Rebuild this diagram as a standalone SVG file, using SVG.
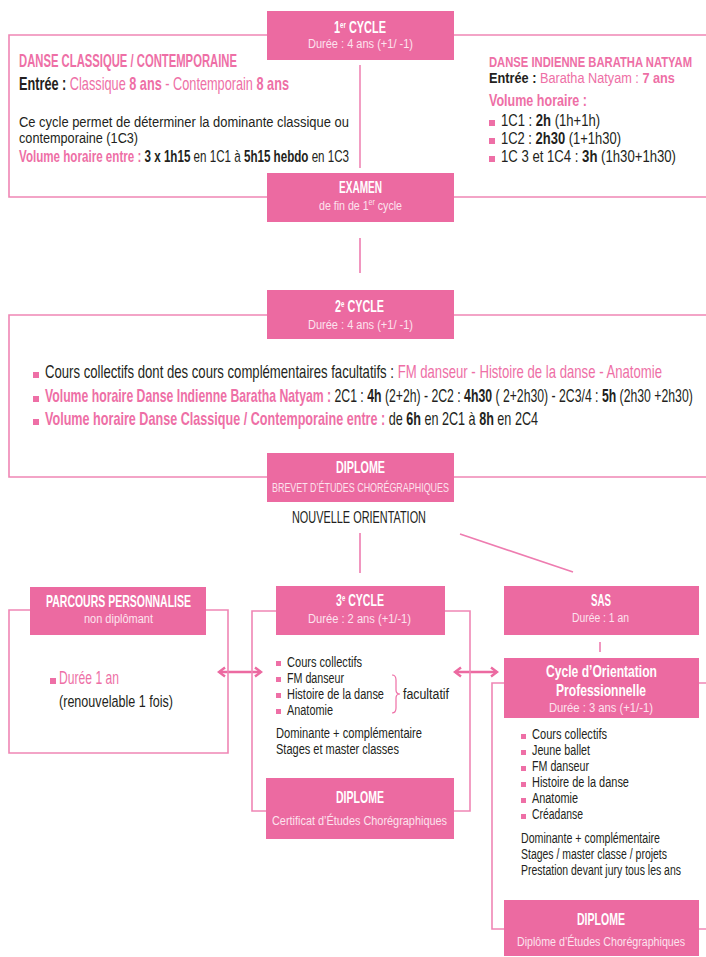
<svg xmlns="http://www.w3.org/2000/svg" width="706" height="957" viewBox="0 0 706 957">
<defs>
<style>
text{font-family:"Liberation Sans",Arial,sans-serif;fill:#231F20}
.box{fill:#EC6AA1}
.frame{fill:none;stroke:#EF86B5;stroke-width:1.6}
.conn{fill:none;stroke:#EE7CB0;stroke-width:1.6}
.arr{fill:none;stroke:#EC6AA1;stroke-width:2.6}
.bt{fill:#FFFFFF;font-weight:bold;font-size:16px}
.bs{fill:#FCE3EE;font-size:13.5px}
.pk{fill:#EE6FA6}
.b{font-weight:bold}
.bul{fill:#EE6FA6}
.s18{font-size:18px}
.s17{font-size:17px}
.s16{font-size:16px}
.s15{font-size:15.5px}
.s15b{font-size:15px}
.sup{font-size:9px}
</style>
<marker id="chev" viewBox="-8 -6 10 12" refX="0" refY="0" markerWidth="10" markerHeight="12" markerUnits="userSpaceOnUse" orient="auto-start-reverse">
<path d="M-6,-4.5 L0,0 L-6,4.5" fill="none" stroke="#EC6AA1" stroke-width="2.4"/>
</marker>
</defs>
<rect width="706" height="957" fill="#FFFFFF"/>

<g id="connectors">
<path class="conn" d="M360,238 V273"/>
<path class="conn" d="M360,533 V573"/>
<path class="conn" d="M460,534 L573,572"/>
<path class="conn" d="M600,642 V652"/>
<path class="arr" d="M219,672 H261" marker-start="url(#chev)" marker-end="url(#chev)"/>
<path class="arr" d="M455,672 H497" marker-start="url(#chev)" marker-end="url(#chev)"/>
</g>

<g id="cycle1">
<path class="frame" d="M267,35 H9 V197 H267 M454,35 H706 M454,197 H706 M360,65 V168"/>
<rect class="box" x="267" y="11" width="187" height="49"/>
<text class="bt" transform="translate(334,33) scale(.72,1)" textLength="72.2" lengthAdjust="spacingAndGlyphs">1<tspan class="sup" dy="-5">er</tspan><tspan dy="5"> CYCLE</tspan></text>
<text class="bs" transform="translate(308,48) scale(.72,1)" textLength="145.8" lengthAdjust="spacingAndGlyphs">Durée : 4 ans (+1/ -1)</text>
<text class="s18 b pk" transform="translate(19,67) scale(.62,1)" textLength="351.6" lengthAdjust="spacingAndGlyphs">DANSE CLASSIQUE / CONTEMPORAINE</text>
<text class="s18" transform="translate(19,90) scale(.7066,1)" textLength="382.1" lengthAdjust="spacingAndGlyphs"><tspan class="b">Entrée :</tspan><tspan class="pk"> Classique </tspan><tspan class="pk b">8 ans</tspan><tspan class="pk"> - Contemporain </tspan><tspan class="pk b">8 ans</tspan></text>
<text class="s15b" transform="translate(19,126.5) scale(.862,1)" textLength="382.7" lengthAdjust="spacingAndGlyphs">Ce cycle permet de déterminer la dominante classique ou</text>
<text class="s15b" transform="translate(19,143) scale(.845,1)" textLength="140.9" lengthAdjust="spacingAndGlyphs">contemporaine (1C3)</text>
<text class="s17" transform="translate(19,162) scale(.681,1)" textLength="484.7" lengthAdjust="spacingAndGlyphs"><tspan class="pk b">Volume horaire entre :</tspan> <tspan class="b">3 x 1h15</tspan> en 1C1 à <tspan class="b">5h15 hebdo</tspan> en 1C3</text>
<text class="s15b b pk" transform="translate(489,66.5) scale(.739,1)" textLength="274.7" lengthAdjust="spacingAndGlyphs">DANSE INDIENNE BARATHA NATYAM</text>
<text class="s15b" transform="translate(489,82.5) scale(.848,1)" textLength="219.3" lengthAdjust="spacingAndGlyphs"><tspan class="b">Entrée :</tspan><tspan class="pk"> Baratha Natyam : </tspan><tspan class="pk b">7 ans</tspan></text>
<text class="s17 b pk" transform="translate(489,106) scale(.72,1)" textLength="136.1" lengthAdjust="spacingAndGlyphs">Volume horaire :</text>
<rect class="bul" x="489" y="120" width="6" height="6"/>
<text class="s16" transform="translate(501,126) scale(.8155,1)" textLength="121.4" lengthAdjust="spacingAndGlyphs">1C1 : <tspan class="b">2h</tspan> (1h+1h)</text>
<rect class="bul" x="489" y="138" width="6" height="6"/>
<text class="s16" transform="translate(501,144) scale(.81,1)" textLength="148.1" lengthAdjust="spacingAndGlyphs">1C2 : <tspan class="b">2h30</tspan> (1+1h30)</text>
<rect class="bul" x="489" y="156" width="6" height="6"/>
<text class="s16" transform="translate(501,162) scale(.8216,1)" textLength="213" lengthAdjust="spacingAndGlyphs">1C 3 et 1C4 : <tspan class="b">3h</tspan> (1h30+1h30)</text>
</g>

<g id="examen">
<rect class="box" x="267" y="173" width="187" height="49"/>
<text class="bt" transform="translate(339,193) scale(.72,1)" textLength="59.7" lengthAdjust="spacingAndGlyphs">EXAMEN</text>
<text class="bs" transform="translate(319,210) scale(.72,1)" textLength="115.3" lengthAdjust="spacingAndGlyphs">de fin de 1<tspan class="sup" dy="-5">er</tspan><tspan dy="5"> cycle</tspan></text>
</g>

<g id="cycle2">
<path class="frame" d="M267,315 H9 V477 H267 M454,315 H706 M454,477 H706"/>
<rect class="box" x="267" y="290" width="187" height="49"/>
<text class="bt" transform="translate(335,312) scale(.72,1)" textLength="68.1" lengthAdjust="spacingAndGlyphs">2<tspan class="sup" dy="-5">e</tspan><tspan dy="5"> CYCLE</tspan></text>
<text class="bs" transform="translate(308,329) scale(.72,1)" textLength="145.8" lengthAdjust="spacingAndGlyphs">Durée : 4 ans (+1/ -1)</text>
<rect class="bul" x="33" y="372" width="6" height="6"/>
<text class="s18" transform="translate(45,378) scale(.729,1)" textLength="846.3" lengthAdjust="spacingAndGlyphs">Cours collectifs dont des cours complémentaires facultatifs : <tspan class="pk">FM danseur - Histoire de la danse  - Anatomie</tspan></text>
<rect class="bul" x="33" y="396" width="6" height="6"/>
<text class="s18" transform="translate(45,402) scale(.679,1)" textLength="954" lengthAdjust="spacingAndGlyphs"><tspan class="pk b">Volume horaire Danse Indienne Baratha Natyam :</tspan> 2C1 : <tspan class="b">4h</tspan> (2+2h) - 2C2 : <tspan class="b">4h30</tspan> ( 2+2h30) - 2C3/4 : <tspan class="b">5h</tspan> (2h30 +2h30)</text>
<rect class="bul" x="33" y="419" width="6" height="6"/>
<text class="s18" transform="translate(45,425) scale(.7026,1)" textLength="701.7" lengthAdjust="spacingAndGlyphs"><tspan class="pk b">Volume horaire Danse Classique / Contemporaine entre :</tspan> de <tspan class="b">6h</tspan> en 2C1 à <tspan class="b">8h</tspan> en 2C4</text>
</g>

<g id="diplome2">
<rect class="box" x="267" y="453" width="187" height="49"/>
<text class="bt" transform="translate(336,473) scale(.72,1)" textLength="68.1" lengthAdjust="spacingAndGlyphs">DIPLOME</text>
<text class="bs" transform="translate(272,492) scale(.72,1)" textLength="245.8" lengthAdjust="spacingAndGlyphs">BREVET D’ÉTUDES CHORÉGRAPHIQUES</text>
</g>

<g id="nouvelle-orientation">
<text class="s17" transform="translate(292,523) scale(.72,1)" textLength="186.1" lengthAdjust="spacingAndGlyphs">NOUVELLE ORIENTATION</text>
</g>

<g id="parcours">
<path class="frame" d="M30,610 H9 V753 H228 V610 H206"/>
<rect class="box" x="30" y="587" width="176" height="48"/>
<text class="bt" transform="translate(46,607) scale(.72,1)" textLength="201.4" lengthAdjust="spacingAndGlyphs">PARCOURS PERSONNALISE</text>
<text class="bs" transform="translate(84,623) scale(.72,1)" textLength="95.8" lengthAdjust="spacingAndGlyphs">non diplômant</text>
<rect class="bul" x="50" y="678" width="6" height="6"/>
<text class="s18 pk" transform="translate(59,684) scale(.72,1)" textLength="83.3" lengthAdjust="spacingAndGlyphs">Durée 1 an</text>
<text class="s17" transform="translate(59,707) scale(.72,1)" textLength="158.3" lengthAdjust="spacingAndGlyphs">(renouvelable 1 fois)</text>
</g>

<g id="cycle3">
<path class="frame" d="M276,611 H252 V811 H266 M454,811 H470 V611 H445"/>
<rect class="box" x="276" y="586" width="169" height="49"/>
<text class="bt" transform="translate(336,606) scale(.72,1)" textLength="66.7" lengthAdjust="spacingAndGlyphs">3<tspan class="sup" dy="-5">e</tspan><tspan dy="5"> CYCLE</tspan></text>
<text class="bs" transform="translate(308,623) scale(.72,1)" textLength="143.1" lengthAdjust="spacingAndGlyphs">Durée : 2 ans (+1/-1)</text>
<rect class="bul" x="276" y="661" width="5" height="5"/>
<text class="s15" transform="translate(287,667) scale(.72,1)" textLength="104.2" lengthAdjust="spacingAndGlyphs">Cours collectifs</text>
<rect class="bul" x="276" y="677" width="5" height="5"/>
<text class="s15" transform="translate(287,683) scale(.72,1)" textLength="79.2" lengthAdjust="spacingAndGlyphs">FM danseur</text>
<rect class="bul" x="276" y="693" width="5" height="5"/>
<text class="s15" transform="translate(287,699) scale(.72,1)" textLength="134.7" lengthAdjust="spacingAndGlyphs">Histoire de la danse</text>
<rect class="bul" x="276" y="709" width="5" height="5"/>
<text class="s15" transform="translate(287,715) scale(.72,1)" textLength="63.9" lengthAdjust="spacingAndGlyphs">Anatomie</text>
<path d="M392,675 Q396,675 396,680 L396,690 Q396,694 400,694 Q396,694 396,698 L396,708 Q396,713 392,713" fill="none" stroke="#EE6FA6" stroke-width="1.2"/>
<text class="s15" transform="translate(403,699) scale(.72,1)" textLength="63.9" lengthAdjust="spacingAndGlyphs">facultatif</text>
<text class="s15" transform="translate(276,738) scale(.72,1)" textLength="202.8" lengthAdjust="spacingAndGlyphs">Dominante + complémentaire</text>
<text class="s15" transform="translate(276,754) scale(.72,1)" textLength="170.8" lengthAdjust="spacingAndGlyphs">Stages et master classes</text>
</g>

<g id="diplome3">
<rect class="box" x="266" y="778" width="188" height="61"/>
<text class="bt" transform="translate(336,803) scale(.72,1)" textLength="66.7" lengthAdjust="spacingAndGlyphs">DIPLOME</text>
<text class="bs" transform="translate(272,825) scale(.72,1)" textLength="243.1" lengthAdjust="spacingAndGlyphs">Certificat d’Études Chorégraphiques</text>
</g>

<g id="sas">
<rect class="box" x="504" y="586" width="195" height="49"/>
<text class="bt" transform="translate(591,606) scale(.72,1)" textLength="27.8" lengthAdjust="spacingAndGlyphs">SAS</text>
<text class="bs" transform="translate(572,622) scale(.72,1)" textLength="79.2" lengthAdjust="spacingAndGlyphs">Durée : 1 an</text>
</g>

<g id="cycle-orientation">
<path class="frame" d="M504,683 H492 V929 H504 M699,683 H706 M699,929 H706"/>
<rect class="box" x="504" y="658" width="195" height="60"/>
<text class="bt" transform="translate(546,677) scale(.72,1)" textLength="154.2" lengthAdjust="spacingAndGlyphs">Cycle d’Orientation</text>
<text class="bt" transform="translate(556,696) scale(.72,1)" textLength="125" lengthAdjust="spacingAndGlyphs">Professionnelle</text>
<text class="bs" transform="translate(549,712) scale(.72,1)" textLength="144.4" lengthAdjust="spacingAndGlyphs">Durée : 3 ans (+1/-1)</text>
<rect class="bul" x="521" y="734" width="5" height="5"/>
<text class="s15" transform="translate(532,739) scale(.72,1)" textLength="104.2" lengthAdjust="spacingAndGlyphs">Cours collectifs</text>
<rect class="bul" x="521" y="750" width="5" height="5"/>
<text class="s15" transform="translate(532,755) scale(.72,1)" textLength="80.6" lengthAdjust="spacingAndGlyphs">Jeune ballet</text>
<rect class="bul" x="521" y="766" width="5" height="5"/>
<text class="s15" transform="translate(532,771) scale(.72,1)" textLength="79.2" lengthAdjust="spacingAndGlyphs">FM danseur</text>
<rect class="bul" x="521" y="782" width="5" height="5"/>
<text class="s15" transform="translate(532,787) scale(.72,1)" textLength="134.7" lengthAdjust="spacingAndGlyphs">Histoire de la danse</text>
<rect class="bul" x="521" y="798" width="5" height="5"/>
<text class="s15" transform="translate(532,803) scale(.72,1)" textLength="63.9" lengthAdjust="spacingAndGlyphs">Anatomie</text>
<rect class="bul" x="521" y="814" width="5" height="5"/>
<text class="s15" transform="translate(532,819) scale(.72,1)" textLength="70.8" lengthAdjust="spacingAndGlyphs">Créadanse</text>
<text class="s15" transform="translate(521,843) scale(.72,1)" textLength="193.1" lengthAdjust="spacingAndGlyphs">Dominante + complémentaire</text>
<text class="s15" transform="translate(521,859) scale(.72,1)" textLength="202.8" lengthAdjust="spacingAndGlyphs">Stages / master classe / projets</text>
<text class="s15" transform="translate(521,875) scale(.72,1)" textLength="222.2" lengthAdjust="spacingAndGlyphs">Prestation devant jury tous les ans</text>
</g>

<g id="diplome-cop">
<rect class="box" x="504" y="900" width="195" height="56"/>
<text class="bt" transform="translate(577,925) scale(.72,1)" textLength="66.7" lengthAdjust="spacingAndGlyphs">DIPLOME</text>
<text class="bs" transform="translate(517,946) scale(.72,1)" textLength="233.3" lengthAdjust="spacingAndGlyphs">Diplôme d’Études Chorégraphiques</text>
</g>
</svg>
